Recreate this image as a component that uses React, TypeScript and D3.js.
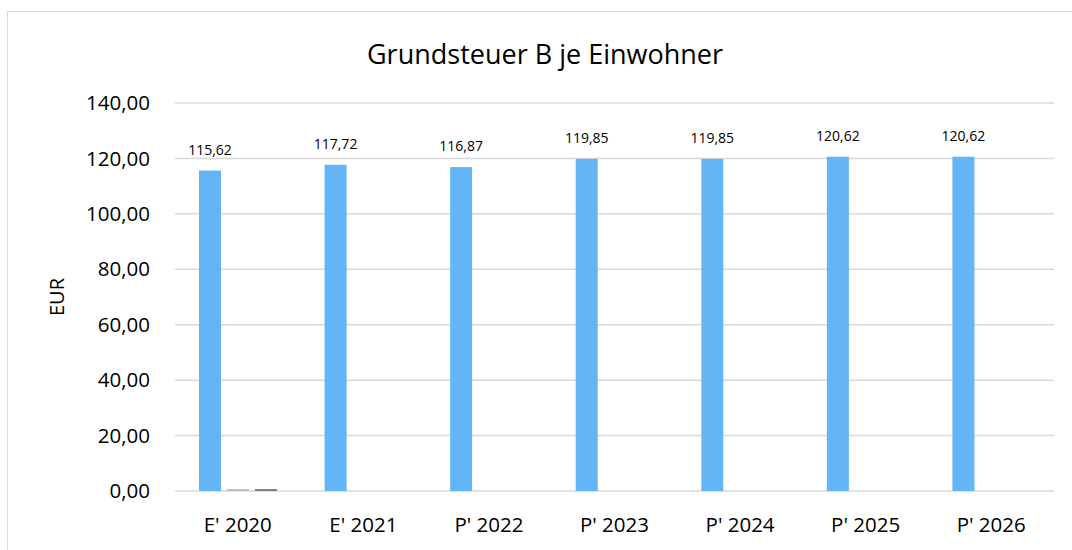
import { useEffect, useRef } from "react";
import * as d3 from "d3";

const categories = ["E' 2020", "E' 2021", "P' 2022", "P' 2023", "P' 2024", "P' 2025", "P' 2026"];
const steuerWerte = [115.62, 117.72, 116.87, 119.85, 119.85, 120.62, 120.62];
const serie2Werte = [0.7, 0, 0, 0, 0, 0, 0];
const serie3Werte = [0.7, 0, 0, 0, 0, 0, 0];
const yTicks = [0, 20, 40, 60, 80, 100, 120, 140];

const seriesKeys = ["s1", "s2", "s3"];
const seriesColors = ["#64b5f6", "#bfbfbf", "#7f7f7f"];

const fmt = (v: number) => v.toFixed(2).replace(".", ",");

const App = () => {
  const svgRef = useRef<SVGSVGElement | null>(null);

  useEffect(() => {
    if (!svgRef.current) return;
    const svg = d3.select(svgRef.current);
    svg.selectAll("*").remove();

    const W = 1072;
    const H = 550;
    const font = "'Segoe UI', 'Open Sans', 'Noto Sans', sans-serif";

    // Rahmen
    svg
      .append("rect")
      .attr("x", 7.5)
      .attr("y", 11.5)
      .attr("width", W + 20)
      .attr("height", H + 20)
      .attr("fill", "#fff")
      .attr("stroke", "#d9d9d9")
      .attr("stroke-width", 1);

    const x = d3.scaleBand<string>().domain(categories).range([175, 1054]);
    const xSub = d3
      .scaleBand<string>()
      .domain(seriesKeys)
      .range([24, 102])
      .paddingInner(0.214);
    const y = d3.scaleLinear().domain([0, 140]).range([491, 103]);

    // Gitterlinien
    svg
      .append("g")
      .selectAll("line")
      .data(yTicks)
      .enter()
      .append("line")
      .attr("x1", 175)
      .attr("x2", 1054)
      .attr("y1", (d) => y(d))
      .attr("y2", (d) => y(d))
      .attr("stroke", "#d9d9d9")
      .attr("stroke-width", 1.5);

    // Y-Achse Beschriftung
    svg
      .append("g")
      .selectAll("text")
      .data(yTicks)
      .enter()
      .append("text")
      .attr("x", 150)
      .attr("y", (d) => y(d))
      .attr("dy", "0.35em")
      .attr("text-anchor", "end")
      .style("font-family", font)
      .style("font-size", "20.5px")
      .attr("fill", "#000")
      .text((d) => fmt(d));

    // X-Achse Beschriftung
    svg
      .append("g")
      .selectAll("text")
      .data(categories)
      .enter()
      .append("text")
      .attr("x", (d) => (x(d) || 0) + x.bandwidth() / 2)
      .attr("y", 525)
      .attr("dy", "0.35em")
      .attr("text-anchor", "middle")
      .style("font-family", font)
      .style("font-size", "20.5px")
      .attr("fill", "#000")
      .text((d) => d);

    // Balken
    const allSeries = [steuerWerte, serie2Werte, serie3Werte];
    allSeries.forEach((vals, si) => {
      svg
        .append("g")
        .selectAll("rect")
        .data(vals.map((v, i) => ({ cat: categories[i], v })).filter((d) => d.v > 0))
        .enter()
        .append("rect")
        .attr("x", (d) => (x(d.cat) || 0) + (xSub(seriesKeys[si]) || 0))
        .attr("y", (d) => y(d.v))
        .attr("width", xSub.bandwidth())
        .attr("height", (d) => y(0) - y(d.v))
        .attr("fill", seriesColors[si]);
    });

    // Datenbeschriftungen
    svg
      .append("g")
      .selectAll("text")
      .data(steuerWerte.map((v, i) => ({ cat: categories[i], v })))
      .enter()
      .append("text")
      .attr("x", (d) => (x(d.cat) || 0) + (xSub("s1") || 0) + xSub.bandwidth() / 2)
      .attr("y", (d) => y(d.v) - 16)
      .attr("text-anchor", "middle")
      .style("font-family", font)
      .style("font-size", "14px")
      .attr("fill", "#000")
      .text((d) => fmt(d.v));

    // Titel
    svg
      .append("text")
      .attr("x", 545)
      .attr("y", 55)
      .attr("dy", "0.35em")
      .attr("text-anchor", "middle")
      .style("font-family", font)
      .style("font-size", "27px")
      .attr("fill", "#000")
      .text("Grundsteuer B je Einwohner");

    // Y-Achsentitel
    svg
      .append("text")
      .attr("transform", "translate(57,297) rotate(-90)")
      .attr("dy", "0.35em")
      .attr("text-anchor", "middle")
      .style("font-family", font)
      .style("font-size", "20px")
      .attr("fill", "#000")
      .text("EUR");
  }, []);

  return (
    <svg
      ref={svgRef}
      width={1072}
      height={550}
      style={{ position: "absolute", left: 0, top: 0, background: "#fff" }}
    ></svg>
  );
};

export default App;
